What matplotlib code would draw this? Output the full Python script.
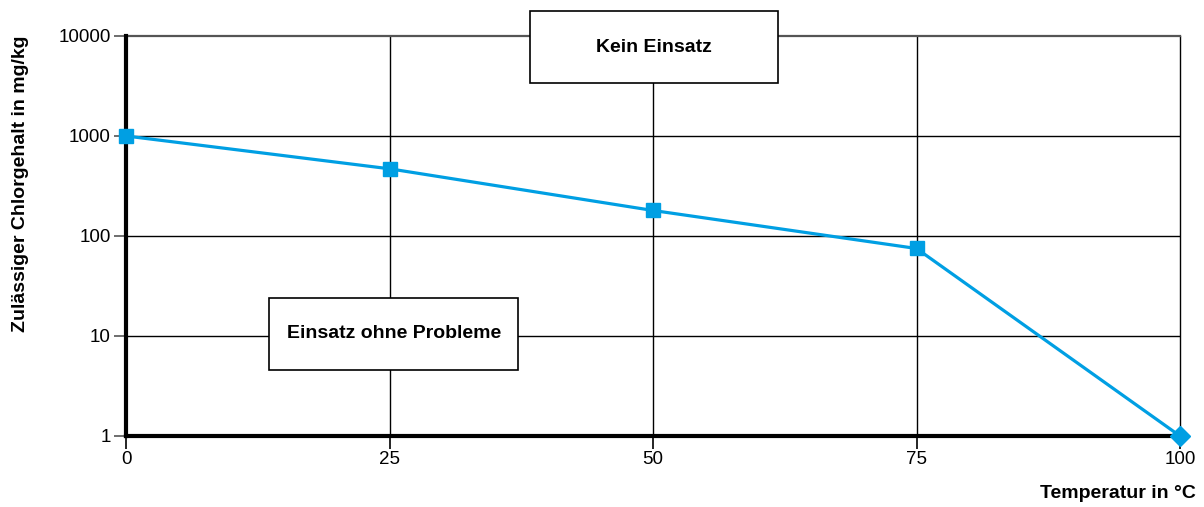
import matplotlib
matplotlib.use("Agg")
import matplotlib.pyplot as plt
from matplotlib.patches import Rectangle
import matplotlib.transforms as mtransforms

plt.rcParams['font.family'] = ['Liberation Sans', 'DejaVu Sans']

temperature = [0, 25, 50, 75, 100]
chlorine = [1000, 470, 180, 75, 1]
x_ticks = [0, 25, 50, 75, 100]
y_ticks = [1, 10, 100, 1000, 10000]
y_tick_labels = ['1', '10', '100', '1000', '10000']

blue = '#009FE3'

fig = plt.figure(figsize=(12.04, 5.07), dpi=100)
W, H = 1204, 507
left, right, top, bottom = 126, 1180, 36, 436
ax = fig.add_axes([left / W, 1 - bottom / H, (right - left) / W, (bottom - top) / H])

ax.set_yscale('log')
ax.set_xlim(0, 100)
ax.set_ylim(1, 10000)

# grid
for x in x_ticks[1:]:
    ax.axvline(x, color='black', lw=1.0, zorder=1, clip_on=False)
for y in y_ticks[1:-1]:
    ax.axhline(y, color='black', lw=1.0, zorder=1)
ax.axhline(y_ticks[-1], color='#555555', lw=1.6, zorder=1, clip_on=False)

# curve
ax.plot(temperature, chlorine, color=blue, lw=2.3, zorder=3, clip_on=False)
ax.plot(temperature[:-1], chlorine[:-1], 's', color=blue, ms=10, zorder=4, clip_on=False)
ax.plot(temperature[-1:], chlorine[-1:], 'D', color=blue, ms=10, zorder=4, clip_on=False)

for side in ('top', 'right'):
    ax.spines[side].set_visible(False)
for side in ('left', 'bottom'):
    ax.spines[side].set_linewidth(3)
    ax.spines[side].set_color('black')

ax.set_xticks(x_ticks)
ax.set_xticklabels([str(v) for v in x_ticks])
ax.set_yticks(y_ticks)
ax.set_yticklabels(y_tick_labels)
ax.yaxis.set_minor_locator(matplotlib.ticker.NullLocator())
ax.tick_params(axis='both', length=9, width=1.2, labelsize=13.5, colors='black', pad=2)
ax.tick_params(axis='y', color='#555555')

fig.text(21 / W, 1 - 184 / H, 'Zulässiger Chlorgehalt in mg/kg', rotation=90,
         ha='center', va='center', fontsize=14, fontweight='bold')
fig.text(1196 / W, 1 - 493 / H, 'Temperatur in °C', ha='right', va='center',
         fontsize=14, fontweight='bold')

# region boxes
trans = mtransforms.blended_transform_factory(ax.transData, ax.transAxes)
boxes = [
    ('Kein Einsatz', 38.3, 61.9, 0.8825, 1.0625),
    ('Einsatz ohne Probleme', 13.6, 37.2, 0.165, 0.345),
]
for label, x0, x1, y0, y1 in boxes:
    ax.add_patch(Rectangle((x0, y0), x1 - x0, y1 - y0, transform=trans,
                           facecolor='white', edgecolor='black', lw=1.2,
                           zorder=5, clip_on=False))
    ax.text((x0 + x1) / 2, (y0 + y1) / 2, label, transform=trans, ha='center',
            va='center', fontsize=14, fontweight='bold', zorder=6)

fig.savefig('out.png', dpi=100)
